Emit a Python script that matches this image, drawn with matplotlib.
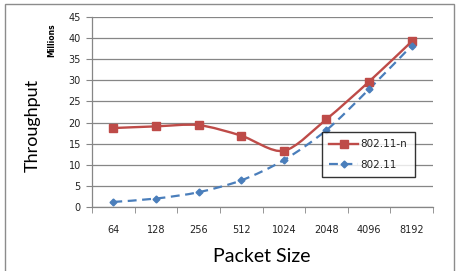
import numpy as np
import matplotlib.pyplot as plt
from matplotlib.path import Path
from matplotlib.patches import PathPatch, Rectangle

# Dados
packet_sizes = ["64", "128", "256", "512", "1024", "2048", "4096", "8192"]
thr_80211n = [18.7, 19.1, 19.4, 16.9, 13.3, 20.8, 29.7, 39.2]
thr_80211 = [1.2, 2.0, 3.5, 6.3, 11.1, 18.2, 27.9, 38.2]

red = "#BE4B48"
blue = "#4A7EBB"
grid_c = "#868686"


def smooth_path(x, y, k=6.0):
    # curva suave estilo Excel (Catmull-Rom em Bezier)
    x = np.asarray(x, float)
    y = np.asarray(y, float)
    verts = [(x[0], y[0])]
    codes = [Path.MOVETO]
    n = len(x)
    for i in range(n - 1):
        i0 = max(i - 1, 0)
        i3 = min(i + 2, n - 1)
        c1 = (x[i] + (x[i + 1] - x[i0]) / k, y[i] + (y[i + 1] - y[i0]) / k)
        c2 = (x[i + 1] - (x[i3] - x[i]) / k, y[i + 1] - (y[i3] - y[i]) / k)
        verts += [c1, c2, (x[i + 1], y[i + 1])]
        codes += [Path.CURVE4] * 3
    return Path(verts, codes)


fig = plt.figure(figsize=(4.66, 2.71), dpi=100)
ax = fig.add_axes([92 / 466, 1 - 207 / 271, (433 - 92) / 466, (207 - 17) / 271])

xs = np.arange(len(packet_sizes))

ax.add_patch(PathPatch(smooth_path(xs, thr_80211n, 7.0), fill=False, ec=red, lw=1.7, zorder=3))
ax.add_patch(PathPatch(smooth_path(xs, thr_80211, 7.0), fill=False, ec=blue, lw=1.6,
                       ls=(0, (4, 2.5)), zorder=3))
ax.plot(xs, thr_80211n, ls="none", marker="s", ms=6, color=red, zorder=4)
ax.plot(xs, thr_80211, ls="none", marker="D", ms=3.5, color=blue, zorder=4)

# legenda (linhas de exemplo para o estilo)
h1, = ax.plot([], [], color=red, lw=1.7, marker="s", ms=6)
h2, = ax.plot([], [], color=blue, lw=1.6, ls=(0, (4, 2.5)), marker="D", ms=3.5)
leg = ax.legend([h1, h2], ["802.11-n", "802.11"], loc="upper left",
                bbox_to_anchor=((322 - 92) / 341, (207 - 132) / 190),
                frameon=True, fancybox=False, edgecolor="black",
                fontsize=7.5, handlelength=2.8, labelspacing=1.0,
                borderpad=0.7, handletextpad=0.2, borderaxespad=0)
leg.get_frame().set_linewidth(1.0)
for t in leg.get_texts():
    t.set_color("#222222")

ax.set_xlim(-0.5, len(packet_sizes) - 0.5)
ax.set_ylim(0, 45)
ax.set_yticks(np.arange(0, 46, 5))
ax.set_xticks(xs)
ax.set_xticklabels(packet_sizes)
ax.set_xticks(np.arange(-0.5, len(packet_sizes), 1), minor=True)
ax.tick_params(axis="x", which="major", length=0, pad=13, labelsize=7, colors="#222222")
ax.tick_params(axis="x", which="minor", length=4, color=grid_c, direction="out")
ax.tick_params(axis="y", length=4, color=grid_c, labelsize=7, colors="#222222", pad=4)

ax.grid(axis="y", color=grid_c, lw=0.9)
ax.set_axisbelow(True)
for s in ["top", "right"]:
    ax.spines[s].set_visible(False)
for s in ["left", "bottom"]:
    ax.spines[s].set_color(grid_c)
    ax.spines[s].set_linewidth(0.9)

fig.text(33 / 466, 1 - 125 / 271, "Throughput", rotation=90, ha="center", va="center",
         fontsize=13, family="Lato")
fig.text(52 / 466, 1 - 40 / 271, "Millions", rotation=90, ha="center", va="center",
         fontsize=5.5, fontweight="bold")
fig.text(262 / 466, 1 - 257 / 271, "Packet Size", ha="center", va="center",
         fontsize=14, family="Lato")

# borda do gráfico
fig.patches.append(Rectangle((5 / 466, -0.01), (454 - 5) / 466, 1 - 4 / 271 + 0.01,
                             transform=fig.transFigure, fill=False, ec="#8c8c8c", lw=1.0))

plt.savefig("out.png", dpi=100)
